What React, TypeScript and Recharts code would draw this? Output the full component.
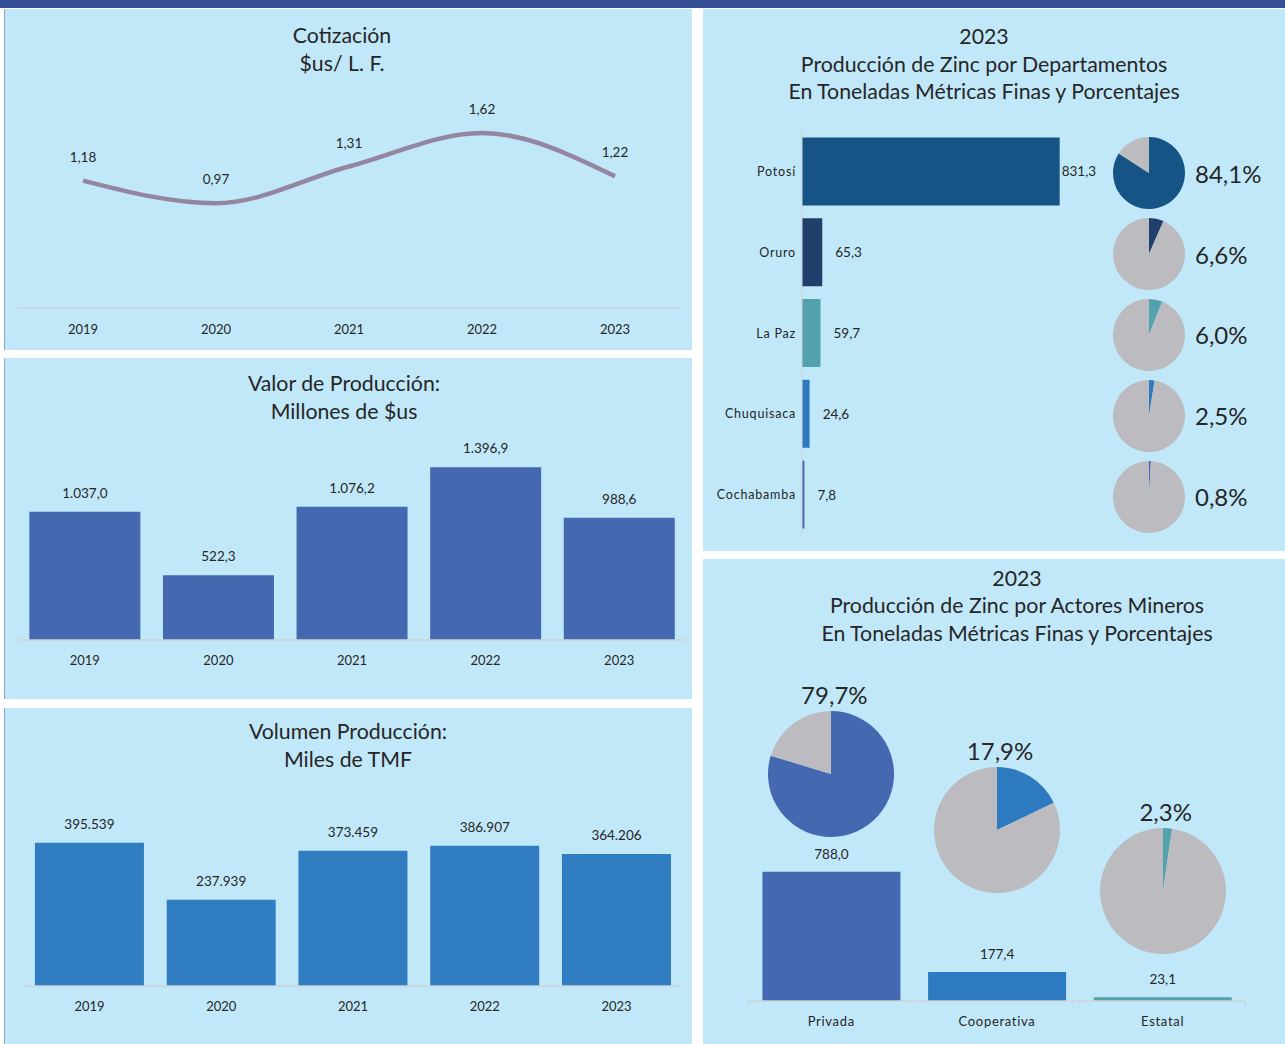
import React from "react";
import {
  LineChart,
  Line,
  BarChart,
  Bar,
  XAxis,
  YAxis,
  LabelList,
  PieChart,
  Pie,
  Cell,
} from "recharts";

// --- data ---
const YEARS = ["2019", "2020", "2021", "2022", "2023"];
const PRICE = [1.18, 0.97, 1.31, 1.62, 1.22];
const PROD_VALUE = [1037.0, 522.3, 1076.2, 1396.9, 988.6];
const PROD_VOLUME = [395539, 237939, 373459, 386907, 364206];

const DEPTS = ["Potosí", "Oruro", "La Paz", "Chuquisaca", "Cochabamba"];
const DEPT_TMF = [831.3, 65.3, 59.7, 24.6, 7.8];
const DEPT_PCT = [84.1, 6.6, 6.0, 2.5, 0.8];

const ACTORS = ["Privada", "Cooperativa", "Estatal"];
const ACTOR_TMF = [788.0, 177.4, 23.1];
const ACTOR_PCT = [79.7, 17.9, 2.3];

// --- styling ---
const PANEL_BG = "#c1e8f9";
const AXIS = "#cdd3d8";
const TEXT = "#262626";
const GREY = "#bcbcc0";
const LINE_COLOR = "#9486a2";
const VALUE_COLOR = "#4469b1";
const VOLUME_COLOR = "#317dc1";
const DEPT_COLORS = ["#175486", "#213f6b", "#54a2ad", "#2f79c1", "#4566b3"];
const ACTOR_COLORS = ["#4469b1", "#2f7bc1", "#54a2ad"];
const FONT = "Lato, 'Open Sans', sans-serif";

const priceData = YEARS.map((year, i) => ({ year, v: PRICE[i] }));
const valueData = YEARS.map((year, i) => ({ year, v: PROD_VALUE[i] }));
const volumeData = YEARS.map((year, i) => ({ year, v: PROD_VOLUME[i] }));
const deptData = DEPTS.map((name, i) => ({ name, v: DEPT_TMF[i] }));
const actorData = ACTORS.map((name, i) => ({ name, v: ACTOR_TMF[i] }));

// spanish style number: 1.037,0
function fmt(v: number, dec: number) {
  const [i, d] = v.toFixed(dec).split(".");
  const int = i.replace(/\B(?=(\d{3})+(?!\d))/g, ".");
  return d ? `${int},${d}` : int;
}

function CenterTick(props: any) {
  const { x, y, payload } = props;
  return (
    <text
      x={x}
      y={y}
      textAnchor="middle"
      dominantBaseline="central"
      fontSize={13}
      fill={TEXT}
      fontFamily={FONT}
    >
      {payload.value}
    </text>
  );
}

// y-axis labels with small tick marks on band boundaries
function DeptTick(props: any) {
  const { x, y, payload, index } = props;
  const half = payload.offset ?? 40.4;
  const ax = x + 6;
  return (
    <g>
      <text
        x={x}
        y={y}
        textAnchor="end"
        dominantBaseline="central"
        fontSize={12.5}
        letterSpacing={0.8}
        fill={TEXT}
        fontFamily={FONT}
      >
        {payload.value}
      </text>
      <line x1={ax} x2={ax - 4} y1={y - half} y2={y - half} stroke={AXIS} />
      {index === DEPTS.length - 1 && (
        <line x1={ax} x2={ax - 4} y1={y + half} y2={y + half} stroke={AXIS} />
      )}
    </g>
  );
}

function ActorTick(props: any) {
  const { x, y, payload, index } = props;
  const half = payload.offset ?? 82.8;
  const ay = y - 20;
  return (
    <g>
      <text
        x={x}
        y={y}
        textAnchor="middle"
        dominantBaseline="central"
        fontSize={13}
        letterSpacing={0.7}
        fill={TEXT}
        fontFamily={FONT}
      >
        {payload.value}
      </text>
      <line x1={x - half} x2={x - half} y1={ay} y2={ay + 6} stroke={AXIS} />
      {index === ACTORS.length - 1 && (
        <line x1={x + half} x2={x + half} y1={ay} y2={ay + 6} stroke={AXIS} />
      )}
    </g>
  );
}

const topLabel = (dec: number, gap = 19) => (p: any) => {
  const { x, y, width, value } = p;
  return (
    <text
      x={x + width / 2}
      y={y - gap}
      textAnchor="middle"
      dominantBaseline="central"
      fontSize={13.5}
      fill={TEXT}
      fontFamily={FONT}
    >
      {fmt(Number(value), dec)}
    </text>
  );
};

const pointLabel = (p: any) => {
  const { x, y, value } = p;
  return (
    <text
      x={x}
      y={y - 24}
      textAnchor="middle"
      dominantBaseline="central"
      fontSize={13.5}
      fill={TEXT}
      fontFamily={FONT}
    >
      {fmt(Number(value), 2)}
    </text>
  );
};

const rightLabel = (p: any) => {
  const { x, y, width, height, value } = p;
  const off = value > 500 ? 2 : 13;
  return (
    <text
      x={x + width + off}
      y={y + height / 2}
      dominantBaseline="central"
      fontSize={13.5}
      fill={TEXT}
      fontFamily={FONT}
    >
      {fmt(Number(value), 1)}
    </text>
  );
};

function Title({ lines, top, width, lh = 28 }: { lines: string[]; top: number; width: number; lh?: number }) {
  return (
    <div
      style={{
        position: "absolute",
        left: 0,
        top,
        width,
        textAlign: "center",
        fontSize: 21.3,
        lineHeight: `${lh}px`,
        color: TEXT,
      }}
    >
      {lines.map((l) => (
        <div key={l}>{l}</div>
      ))}
    </div>
  );
}

function SmallPie({ pct, color, r, size }: { pct: number; color: string; r: number; size: number }) {
  const data = [{ v: pct }, { v: 100 - pct }];
  return (
    <PieChart width={size} height={size} margin={{ top: 0, right: 0, bottom: 0, left: 0 }}>
      <Pie
        data={data}
        dataKey="v"
        startAngle={90}
        endAngle={-270}
        outerRadius={r}
        stroke="none"
        isAnimationActive={false}
      >
        <Cell fill={color} />
        <Cell fill={GREY} />
      </Pie>
    </PieChart>
  );
}

const panel = (left: number, top: number, width: number, height: number, border = false): React.CSSProperties => ({
  position: "absolute",
  left,
  top,
  width,
  height,
  background: PANEL_BG,
  boxShadow: border ? "inset 1px 0 0 #8ea6c6" : undefined,
  overflow: "hidden",
});

const ACTOR_PIE_TOP = [122, 178, 239];

export default function App() {
  return (
    <div
      style={{
        position: "absolute",
        left: 0,
        top: 0,
        width: 1285,
        height: 1044,
        background: "#fff",
        overflow: "hidden",
        fontFamily: FONT,
      }}
    >
      <div style={{ position: "absolute", left: 0, top: 0, width: 1285, height: 8, background: "#354f97" }} />

      {/* Cotización */}
      <div style={panel(4, 9, 688, 341, true)}>
        <Title lines={["Cotización", "$us/ L. F."]} top={12} width={676} />
        <div style={{ position: "absolute", left: 0, top: 0 }}>
          <LineChart width={688} height={329} data={priceData} margin={{ top: 83, right: 11, bottom: 0, left: 13 }}>
            <XAxis
              dataKey="year"
              padding={{ left: 66, right: 66 }}
              axisLine={{ stroke: AXIS, strokeWidth: 1.5 }}
              tickLine={false}
              tickSize={0}
              tickMargin={21}
              height={30}
              tick={<CenterTick />}
            />
            <YAxis hide domain={[0, 2]} allowDataOverflow />
            <Line
              type="monotone"
              dataKey="v"
              stroke={LINE_COLOR}
              strokeWidth={4.5}
              dot={false}
              isAnimationActive={false}
            >
              <LabelList dataKey="v" content={pointLabel} />
            </Line>
          </LineChart>
        </div>
      </div>

      {/* Valor de Producción */}
      <div style={panel(4, 358, 688, 341, true)}>
        <Title lines={["Valor de Producción:", "Millones de $us"]} top={11} width={680} />
        <div style={{ position: "absolute", left: 0, top: 0 }}>
          <BarChart
            width={688}
            height={312}
            data={valueData}
            margin={{ top: 84, right: 6, bottom: 0, left: 14 }}
            barCategoryGap="8.5%"
          >
            <XAxis
              dataKey="year"
              axisLine={{ stroke: AXIS, strokeWidth: 1.5 }}
              tickLine={false}
              tickSize={0}
              tickMargin={20}
              height={30}
              tick={<CenterTick />}
            />
            <YAxis hide domain={[0, 1600]} allowDataOverflow />
            <Bar dataKey="v" fill={VALUE_COLOR} isAnimationActive={false}>
              <LabelList dataKey="v" content={topLabel(1)} />
            </Bar>
          </BarChart>
        </div>
      </div>

      {/* Volumen Producción */}
      <div style={panel(4, 708, 688, 336, true)}>
        <Title lines={["Volumen Producción:", "Miles de TMF"]} top={9} width={688} />
        <div style={{ position: "absolute", left: 0, top: 0 }}>
          <BarChart
            width={688}
            height={308}
            data={volumeData}
            margin={{ top: 115, right: 9.6, bottom: 0, left: 19.6 }}
            barCategoryGap="8.6%"
          >
            <XAxis
              dataKey="year"
              axisLine={{ stroke: AXIS, strokeWidth: 1.5 }}
              tickLine={false}
              tickSize={0}
              tickMargin={20}
              height={30}
              tick={<CenterTick />}
            />
            <YAxis hide domain={[0, 450000]} allowDataOverflow />
            <Bar dataKey="v" fill={VOLUME_COLOR} isAnimationActive={false}>
              <LabelList dataKey="v" content={topLabel(0)} />
            </Bar>
          </BarChart>
        </div>
      </div>

      {/* Departamentos */}
      <div style={panel(703, 9, 582, 542)}>
        <Title
          lines={["2023", "Producción de Zinc por Departamentos", "En Toneladas Métricas Finas y Porcentajes"]}
          top={14}
          width={562}
          lh={27.5}
        />
        <div style={{ position: "absolute", left: 0, top: 0 }}>
          <BarChart
            layout="vertical"
            width={420}
            height={526}
            data={deptData}
            margin={{ top: 122, right: 42, bottom: 0, left: 0 }}
            barCategoryGap="7.9%"
          >
            <XAxis type="number" hide domain={[0, 900]} allowDataOverflow />
            <YAxis
              type="category"
              dataKey="name"
              width={99}
              axisLine={{ stroke: AXIS }}
              tickLine={false}
              tickSize={0}
              tickMargin={6}
              tick={<DeptTick />}
            />
            <Bar dataKey="v" isAnimationActive={false}>
              {deptData.map((d, i) => (
                <Cell key={d.name} fill={DEPT_COLORS[i]} />
              ))}
              <LabelList dataKey="v" content={rightLabel} />
            </Bar>
          </BarChart>
        </div>
        <div style={{ position: "absolute", left: 402, top: 124 }}>
          {DEPTS.map((d, i) => (
            <div key={d} style={{ display: "flex", alignItems: "center", height: 80.8 }}>
              <div style={{ width: 88, display: "flex", justifyContent: "center" }}>
                <SmallPie pct={DEPT_PCT[i]} color={DEPT_COLORS[i]} r={36} size={76} />
              </div>
              <div style={{ marginLeft: 2, fontSize: 24, color: TEXT }}>{fmt(DEPT_PCT[i], 1)}%</div>
            </div>
          ))}
        </div>
      </div>

      {/* Actores Mineros */}
      <div style={panel(703, 559, 582, 485)}>
        <Title
          lines={["2023", "Producción de Zinc por Actores Mineros", "En Toneladas Métricas Finas y Porcentajes"]}
          top={5.5}
          width={628}
          lh={27.5}
        />
        <div style={{ position: "absolute", left: 0, top: 0 }}>
          <BarChart
            width={582}
            height={472}
            data={actorData}
            margin={{ top: 278, right: 39.5, bottom: 0, left: 45.5 }}
            barCategoryGap="8.4%"
          >
            <XAxis
              dataKey="name"
              axisLine={{ stroke: AXIS, strokeWidth: 1.5 }}
              tickLine={false}
              tickSize={0}
              tickMargin={20}
              height={30}
              tick={<ActorTick />}
            />
            <YAxis hide domain={[0, 1000]} allowDataOverflow />
            <Bar dataKey="v" isAnimationActive={false}>
              {actorData.map((d, i) => (
                <Cell key={d.name} fill={ACTOR_COLORS[i]} />
              ))}
              <LabelList dataKey="v" content={topLabel(1, 18)} />
            </Bar>
          </BarChart>
        </div>
        <div style={{ position: "absolute", left: 45.5, top: 0, display: "flex", alignItems: "flex-start" }}>
          {ACTORS.map((a, i) => (
            <div
              key={a}
              style={{
                width: 165.7,
                paddingTop: ACTOR_PIE_TOP[i],
                display: "flex",
                flexDirection: "column",
                alignItems: "center",
              }}
            >
              <div style={{ fontSize: 24, lineHeight: "28px", color: TEXT, paddingLeft: 6 }}>
                {fmt(ACTOR_PCT[i], 1)}%
              </div>
              <SmallPie pct={ACTOR_PCT[i]} color={ACTOR_COLORS[i]} r={63} size={130} />
            </div>
          ))}
        </div>
      </div>
    </div>
  );
}
